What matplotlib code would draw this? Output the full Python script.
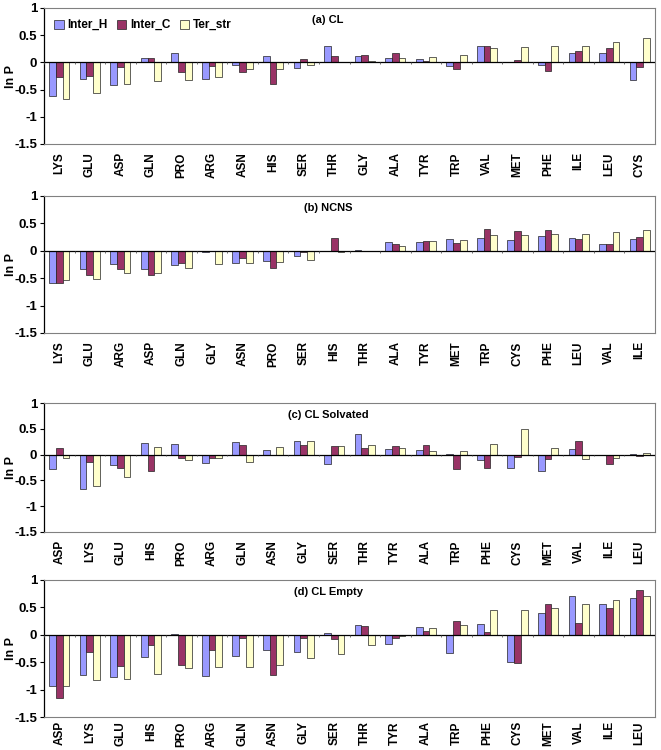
import numpy as np
import matplotlib
matplotlib.use("Agg")
import matplotlib.pyplot as plt

plt.rcParams['font.family'] = ['Liberation Sans', 'DejaVu Sans']
plt.rcParams['font.weight'] = 'bold'

series_names = ["Inter_H", "Inter_C", "Ter_str"]
colors = ["#9999FF", "#993366", "#FFFFCC"]

# Panel (a) CL
cats_a = ["LYS", "GLU", "ASP", "GLN", "PRO", "ARG", "ASN", "HIS", "SER", "THR",
          "GLY", "ALA", "TYR", "TRP", "VAL", "MET", "PHE", "ILE", "LEU", "CYS"]
a_H = [-0.61, -0.30, -0.42, 0.08, 0.165, -0.31, -0.04, 0.11, -0.10, 0.31,
       0.12, 0.09, 0.07, -0.07, 0.31, 0.0, -0.04, 0.18, 0.18, -0.33]
a_C = [-0.26, -0.245, -0.08, 0.09, -0.18, -0.07, -0.18, -0.39, 0.07, 0.11,
       0.135, 0.165, 0.03, -0.12, 0.31, 0.04, -0.16, 0.21, 0.26, -0.09]
a_T = [-0.68, -0.56, -0.39, -0.34, -0.33, -0.27, -0.13, -0.13, -0.04, 0.01,
       0.02, 0.09, 0.10, 0.135, 0.26, 0.29, 0.31, 0.31, 0.38, 0.44]

# Panel (b) NCNS
cats_b = ["LYS", "GLU", "ARG", "ASP", "GLN", "GLY", "ASN", "PRO", "SER", "HIS",
          "THR", "ALA", "TYR", "MET", "TRP", "CYS", "PHE", "LEU", "VAL", "ILE"]
b_H = [-0.585, -0.34, -0.24, -0.33, -0.26, -0.03, -0.23, -0.18, -0.10, 0.0,
       0.01, 0.165, 0.165, 0.22, 0.225, 0.19, 0.27, 0.24, 0.115, 0.21]
b_C = [-0.585, -0.45, -0.33, -0.45, -0.23, -0.01, -0.13, -0.31, -0.03, 0.23,
       -0.01, 0.115, 0.17, 0.15, 0.40, 0.36, 0.385, 0.21, 0.115, 0.26]
b_T = [-0.53, -0.52, -0.41, -0.41, -0.32, -0.24, -0.23, -0.20, -0.16, -0.03,
       0.0, 0.08, 0.175, 0.20, 0.28, 0.28, 0.31, 0.31, 0.35, 0.38]

# Panel (c) CL Solvated
cats_c = ["ASP", "LYS", "GLU", "HIS", "PRO", "ARG", "GLN", "ASN", "GLY", "SER",
          "THR", "TYR", "ALA", "TRP", "PHE", "CYS", "MET", "VAL", "ILE", "LEU"]
c_H = [-0.28, -0.66, -0.20, 0.225, 0.20, -0.17, 0.245, 0.08, 0.265, -0.18,
       0.40, 0.115, 0.08, 0.01, -0.11, -0.26, -0.32, 0.11, -0.01, 0.01]
c_C = [0.135, -0.14, -0.26, -0.32, -0.07, -0.07, 0.19, 0.0, 0.19, 0.16,
       0.13, 0.16, 0.19, -0.28, -0.26, -0.05, -0.085, 0.265, -0.18, -0.03]
c_T = [-0.07, -0.60, -0.43, 0.15, -0.10, -0.07, -0.14, 0.15, 0.27, 0.17,
       0.19, 0.135, 0.065, 0.07, 0.21, 0.50, 0.12, -0.085, -0.06, 0.03]

# Panel (d) CL Empty
cats_d = ["ASP", "LYS", "GLU", "HIS", "PRO", "ARG", "GLN", "ASN", "GLY", "SER",
          "THR", "TYR", "ALA", "TRP", "PHE", "CYS", "MET", "VAL", "ILE", "LEU"]
d_H = [-0.94, -0.73, -0.77, -0.41, 0.02, -0.76, -0.38, -0.27, -0.31, 0.04,
       0.18, -0.17, 0.14, -0.335, 0.19, -0.50, 0.39, 0.715, 0.555, 0.665]
d_C = [-1.15, -0.31, -0.57, -0.18, -0.555, -0.27, -0.055, -0.74, -0.055, -0.07,
       0.165, -0.055, 0.075, 0.245, 0.055, -0.52, 0.555, 0.22, 0.48, 0.82]
d_T = [-0.94, -0.82, -0.80, -0.71, -0.60, -0.59, -0.59, -0.55, -0.43, -0.35,
       -0.19, -0.025, 0.13, 0.18, 0.45, 0.46, 0.49, 0.57, 0.63, 0.70]

panels = [
    ("(a) CL", cats_a, [a_H, a_C, a_T], [44, 8, 655, 144], 6),
    ("(b) NCNS", cats_b, [b_H, b_C, b_T], [44, 196, 655, 333], 6),
    ("(c) CL Solvated", cats_c, [c_H, c_C, c_T], [44, 403, 655, 532], 6),
    ("(d) CL Empty", cats_d, [d_H, d_C, d_T], [44, 580, 655, 717], 3),
]

W, H = 661, 750
fig = plt.figure(figsize=(W / 100, H / 100), dpi=100)

bw = 0.22
for idx, (title, cats, vals, box, xpad) in enumerate(panels):
    x0, y0, x1, y1 = box
    ax = fig.add_axes([x0 / W, 1 - y1 / H, (x1 - x0) / W, (y1 - y0) / H])
    n = len(cats)
    x = np.arange(n)
    handles = []
    for k, (v, col, nm) in enumerate(zip(vals, colors, series_names)):
        h = ax.bar(x + (k - 1) * bw, v, width=bw, color=col,
                   edgecolor='#222222', linewidth=0.5, label=nm, zorder=3)
        handles.append(h)
    ax.axhline(0, color='black', lw=0.9, zorder=4)
    ax.vlines(np.arange(n + 1) - 0.5, -0.035, 0, color='#555555', lw=0.6, zorder=4)
    ax.set_xlim(-0.5, n - 0.5)
    ax.set_ylim(-1.5, 1)
    ax.set_yticks([-1.5, -1, -0.5, 0, 0.5, 1])
    ax.set_yticklabels(["-1.5", "-1", "-0.5", "0", "0.5", "1"])
    ax.set_xticks(x)
    ax.set_xticklabels(cats, rotation=90)
    ax.tick_params(axis='x', length=0, pad=xpad, labelsize=8.5)
    ax.tick_params(axis='y', length=3, width=0.8, direction='out', labelsize=9.5, pad=2)
    for s in ['top', 'right', 'bottom']:
        ax.spines[s].set_color('#808080')
        ax.spines[s].set_linewidth(0.8)
    ax.spines['left'].set_color('black')
    ax.spines['left'].set_linewidth(0.9)
    ax.set_ylabel("ln P", fontsize=9, fontweight='bold')
    ax.yaxis.set_label_coords(-0.045, 0.5)
    ax.text(0.465, 0.91, title, transform=ax.transAxes, ha='center', va='center',
            fontsize=8, fontweight='bold')
    if idx == 0:
        ax.legend(handles=handles, loc='upper left', ncol=3, frameon=False,
                  bbox_to_anchor=(0.005, 0.97), fontsize=8.5, handlelength=0.8,
                  handleheight=0.8, handletextpad=0.3, columnspacing=0.8,
                  borderaxespad=0.2)

fig.savefig("out.png", dpi=100)
